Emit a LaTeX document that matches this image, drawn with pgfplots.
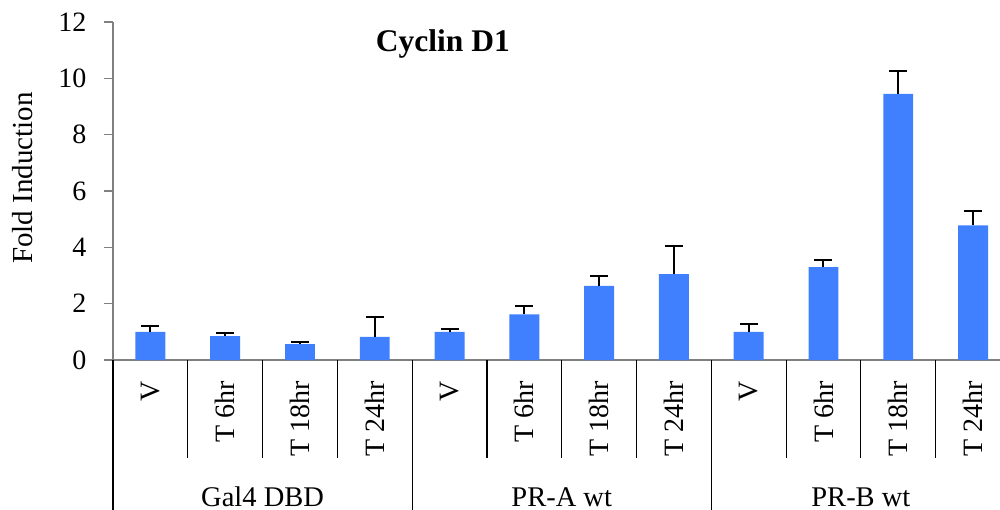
\documentclass[border=0pt]{standalone}
\usepackage{pgfplots}
\pgfplotsset{compat=1.18}
\usepackage{fontspec}
\setmainfont{Liberation Serif}
\definecolor{barblue}{RGB}{64,128,255}
\definecolor{axgray}{RGB}{128,128,128}
\pgfplotstableread{
x y e
0 1.00 0.20
1 0.85 0.11
2 0.56 0.09
3 0.82 0.70
4 1.00 0.11
5 1.62 0.31
6 2.63 0.36
7 3.05 0.99
8 1.00 0.28
9 3.30 0.25
10 9.45 0.80
11 4.78 0.50
}\cyclin
\begin{document}
\fontsize{11.4}{13.5}\selectfont
\begin{tikzpicture}
\useasboundingbox (0,0) rectangle (400pt,204pt);
\begin{axis}[
  at={(45.2pt,60pt)}, anchor=south west,
  scale only axis, width=354.8pt, height=135.2pt,
  xmin=-0.5, xmax=11.36, ymin=0, ymax=12,
  ytick={0,2,...,12},
  xtick={0,...,11},
  xticklabels={V,T 6hr,T 18hr,T 24hr,V,T 6hr,T 18hr,T 24hr,V,T 6hr,T 18hr,T 24hr},
  axis x line=bottom, axis y line=left,
  axis line style={-, axgray, line width=0.6pt},
  tick align=outside, major tick length=3.6pt,
  ytick style={axgray, line width=0.6pt},
  xtick style={draw=none},
  /pgf/number format/assume math mode=true,
  ticklabel style={font=\fontsize{11.2}{13.5}\selectfont},
  yticklabel style={anchor=east, inner sep=0pt, xshift=-6.8pt},
  xticklabel style={yshift=-6pt, rotate=90, anchor=east, inner sep=0pt, xshift=1.2pt},
  ylabel={Fold Induction},
  ylabel style={at={(rel axis cs:-0.1015,0.538)}, anchor=center, font=\fontsize{11.6}{13.5}\selectfont},
  clip=false,
  ybar, bar width=0.4,
]
\addplot[ybar, fill=barblue, draw=none,
  error bars/.cd, y dir=plus, y explicit,
  error bar style={black, line width=0.8pt},
  error mark options={rotate=90, black, line width=0.8pt, mark size=3.6pt}]
  table[x=x, y=y, y error=e]{\cyclin};
\draw[black, line width=0.45pt] (axis cs:0.5,0) -- ([yshift=-39.2pt]axis cs:0.5,0);
\draw[black, line width=0.45pt] (axis cs:1.5,0) -- ([yshift=-39.2pt]axis cs:1.5,0);
\draw[black, line width=0.45pt] (axis cs:2.5,0) -- ([yshift=-39.2pt]axis cs:2.5,0);
\draw[black, line width=0.45pt] (axis cs:4.5,0) -- ([yshift=-39.2pt]axis cs:4.5,0);
\draw[black, line width=0.45pt] (axis cs:5.5,0) -- ([yshift=-39.2pt]axis cs:5.5,0);
\draw[black, line width=0.45pt] (axis cs:6.5,0) -- ([yshift=-39.2pt]axis cs:6.5,0);
\draw[black, line width=0.45pt] (axis cs:8.5,0) -- ([yshift=-39.2pt]axis cs:8.5,0);
\draw[black, line width=0.45pt] (axis cs:9.5,0) -- ([yshift=-39.2pt]axis cs:9.5,0);
\draw[black, line width=0.45pt] (axis cs:10.5,0) -- ([yshift=-39.2pt]axis cs:10.5,0);
\draw[black, line width=0.45pt] (axis cs:-0.5,0) -- ([yshift=-60pt]axis cs:-0.5,0);
\draw[black, line width=0.45pt] (axis cs:3.5,0) -- ([yshift=-60pt]axis cs:3.5,0);
\draw[black, line width=0.45pt] (axis cs:7.5,0) -- ([yshift=-60pt]axis cs:7.5,0);
\node[anchor=base, inner sep=0pt] at ([yshift=-58.4pt]axis cs:1.5,0) {Gal4 DBD};
\node[anchor=base, inner sep=0pt] at ([yshift=-58.4pt]axis cs:5.5,0) {PR-A wt};
\node[anchor=base, inner sep=0pt] at ([yshift=-58.4pt]axis cs:9.5,0) {PR-B wt};
\node[anchor=base, inner sep=0pt, font=\fontsize{12.6}{15}\selectfont\bfseries] at (axis cs:3.91,10.97) {Cyclin D1};
\end{axis}
\end{tikzpicture}
\end{document}
